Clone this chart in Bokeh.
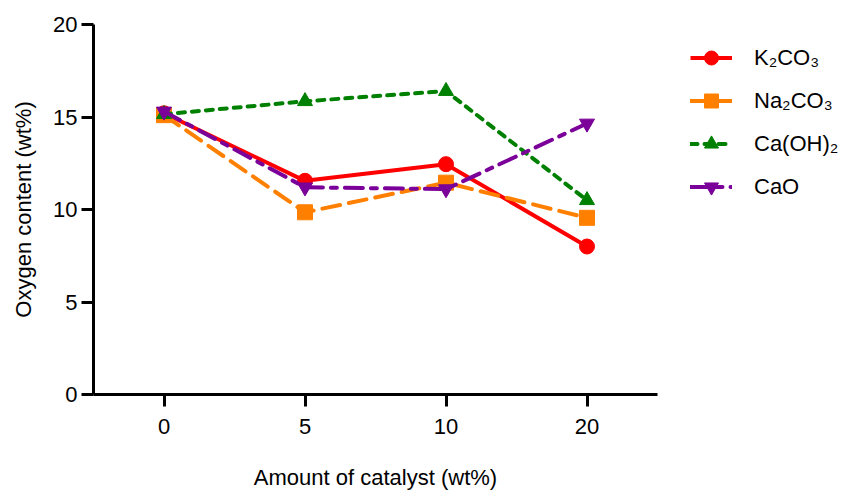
from bokeh.plotting import figure
from bokeh.models import FixedTicker, Range1d, FactorRange, Legend, LegendItem
from bokeh.embed import file_html
from bokeh.resources import INLINE

categories = ["0", "5", "10", "20"]
k2co3 = [15.2, 11.55, 12.45, 8.0]
na2co3 = [15.1, 9.85, 11.45, 9.55]
caoh2 = [15.15, 15.85, 16.4, 10.5]
cao = [15.3, 11.2, 11.1, 14.65]
y_ticks = [0, 5, 10, 15, 20]
series_names = ["K₂CO₃", "Na₂CO₃", "Ca(OH)₂", "CaO"]

FONT = "Liberation Sans"

p = figure(x_range=FactorRange(factors=categories, range_padding=0),
           y_range=Range1d(0, 20),
           width=828, height=476,
           frame_width=564, frame_height=370,
           min_border_left=93, min_border_top=24, min_border_right=171, min_border_bottom=82,
           output_backend="svg", toolbar_location=None)
p.outline_line_color = None
p.grid.visible = False
p.background_fill_color = "white"

for ax in (p.xaxis[0], p.yaxis[0]):
    ax.axis_line_width = 3
    ax.axis_line_color = "black"
    ax.major_tick_line_width = 3
    ax.major_tick_line_color = "black"
    ax.major_tick_out = 12
    ax.major_tick_in = 0
    ax.minor_tick_out = 0
    ax.minor_tick_in = 0
    ax.major_label_text_font = FONT
    ax.major_label_text_font_size = "22px"
    ax.major_label_text_color = "black"
    ax.axis_label_text_font = FONT
    ax.axis_label_text_font_size = "22px"
    ax.axis_label_text_font_style = "normal"
    ax.axis_label_text_color = "black"

p.yaxis.ticker = FixedTicker(ticks=y_ticks)
p.yaxis.axis_label = "Oxygen content (wt%)"
p.yaxis.major_label_standoff = 4
p.yaxis.axis_label_standoff = 14
p.xaxis.axis_label = "Amount of catalyst (wt%)"
p.xaxis.major_label_standoff = 12
p.xaxis.axis_label_standoff = 28

specs = [
    (k2co3, "#FF0000", "solid", "circle"),
    (na2co3, "#FF8000", "18 9", "square"),
    (caoh2, "#008000", "7 7", "triangle"),
    (cao, "#7A0099", "18 8 6 8", "inverted_triangle"),
]

items = []
for name, (vals, color, dash, marker) in zip(series_names, specs):
    l = p.line(categories, vals, line_color=color, line_width=4, line_dash=dash,
               line_cap="round" if dash != "solid" else "butt")
    s = p.scatter(categories, vals, marker=marker, size=15, fill_color=color,
                  line_color=color, line_width=1)
    items.append(LegendItem(label=name, renderers=[l, s]))

legend = Legend(items=items, location=(33, 190),
                border_line_color=None, background_fill_alpha=0,
                padding=0, margin=0, spacing=8,
                glyph_width=42, glyph_height=35, label_height=22,
                label_standoff=22,
                label_text_font=FONT, label_text_font_size="22px",
                label_text_color="black")
p.add_layout(legend, "right")

open("out.html", "w").write(file_html(p, INLINE))
